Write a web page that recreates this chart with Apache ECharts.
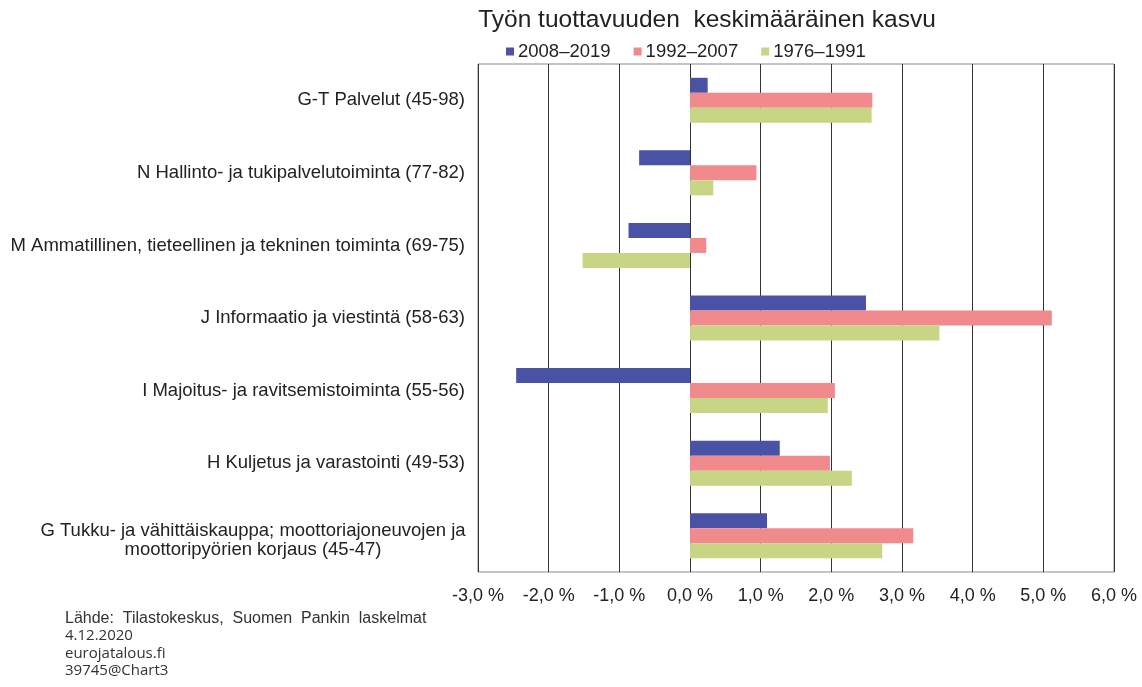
<!DOCTYPE html>
<html><head><meta charset="utf-8">
<script src="https://cdn.jsdelivr.net/npm/echarts@6/dist/echarts.min.js"></script>
<style>html,body{margin:0;padding:0;background:#fff}#c{width:1142px;height:687px}</style>
</head><body><div id="c"></div>
<script>
// categories bottom -> top
const categories = [
  "G Tukku- ja vähittäiskauppa; moottoriajoneuvojen ja\nmoottoripyörien korjaus (45-47)",
  "H Kuljetus ja varastointi (49-53)",
  "I Majoitus- ja ravitsemistoiminta (55-56)",
  "J Informaatio ja viestintä (58-63)",
  "M Ammatillinen, tieteellinen ja tekninen toiminta (69-75)",
  "N Hallinto- ja tukipalvelutoiminta (77-82)",
  "G-T Palvelut (45-98)"
];
const s2008_2019 = [1.09, 1.27, -2.46, 2.49, -0.87, -0.72, 0.25];
const s1992_2007 = [3.16, 1.98, 2.05, 5.12, 0.23, 0.94, 2.58];
const s1976_1991 = [2.72, 2.29, 1.95, 3.53, -1.52, 0.33, 2.57];
const seriesNames = ["2008–2019", "1992–2007", "1976–1991"];
const xTicks = { min: -3, max: 6, interval: 1 };
const titleText = "Työn tuottavuuden  keskimääräinen kasvu";
const sourceLines = ["Lähde:  Tilastokeskus,  Suomen  Pankin  laskelmat", "4.12.2020", "eurojatalous.fi", "39745@Chart3"];

const colors = { "2008–2019": "#4a52a6", "1992–2007": "#f08a8c", "1976–1991": "#c8d585" };
const font = "Liberation Sans, Arial, sans-serif";
const labelSize = 18.5;

const chart = echarts.init(document.getElementById('c'));
chart.setOption({
  animation: false,
  backgroundColor: '#fff',
  title: { text: titleText, left: 702, top: 3, textAlign: 'center',
    textStyle: { fontFamily: font, fontSize: 24.5, fontWeight: 'normal', color: '#222' } },
  legend: {
    data: seriesNames, top: 37, left: 501, itemWidth: 8, itemHeight: 8, itemGap: 23,
    icon: 'rect', textStyle: { fontFamily: font, fontSize: 18.5, color: '#222', padding: [0, 0, 0, -1] }
  },
  grid: { left: 478, right: 28, top: 64, bottom: 115, show: true, borderColor: '#888', borderWidth: 1 },
  xAxis: {
    type: 'value', min: xTicks.min, max: xTicks.max, interval: xTicks.interval,
    axisLine: { show: false }, axisTick: { show: false },
    splitLine: { lineStyle: { color: '#333', width: 1 } },
    axisLabel: { fontFamily: font, fontSize: 18, color: '#222', margin: 15,
      formatter: v => v.toFixed(1).replace('.', ',') + ' %' }
  },
  yAxis: {
    type: 'category', data: categories,
    axisLine: { show: false }, axisTick: { show: false },
    axisLabel: {
      fontFamily: font, fontSize: labelSize, color: '#222', margin: 13, lineHeight: 19, align: 'right',
      formatter: v => v.indexOf('\n') >= 0 ? '{sp| }\n' + v.split('\n').map(l => '{c|' + l + '}').join('\n') : v,
      rich: {
        sp: { fontSize: 1, lineHeight: 9, width: 424 },
        c: { width: 424, align: 'center', fontFamily: font, fontSize: labelSize, color: '#222', lineHeight: 19 }
      }
    }
  },
  series: [
    { name: "2008–2019", type: 'bar', data: s2008_2019, barWidth: 15, barGap: '0%', itemStyle: { color: colors["2008–2019"] } },
    { name: "1992–2007", type: 'bar', data: s1992_2007, barWidth: 15, barGap: '0%', itemStyle: { color: colors["1992–2007"] } },
    { name: "1976–1991", type: 'bar', data: s1976_1991, barWidth: 15, barGap: '0%', itemStyle: { color: colors["1976–1991"] } }
  ],
  graphic: sourceLines.map((t, i) => ({
    type: 'text', left: 65, top: 611 + i * 17.5,
    style: { text: t, fontFamily: i === 0 ? font : 'Open Sans, sans-serif', fontSize: i === 0 ? 16 : 15, fill: '#333' }
  }))
});
</script></body></html>
